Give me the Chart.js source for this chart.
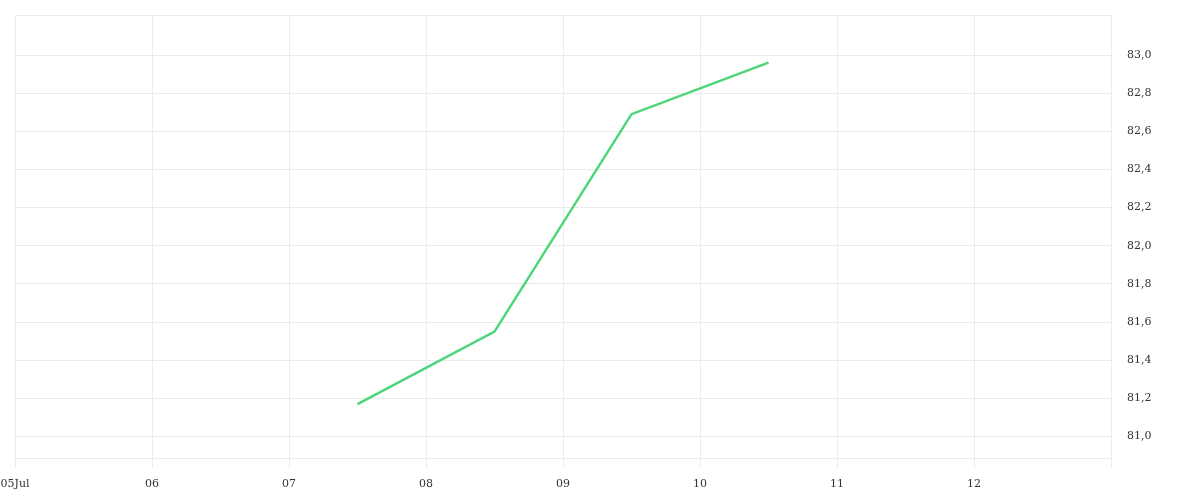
<!DOCTYPE html>
<html>
<head>
<meta charset="utf-8">
<script src="https://cdn.jsdelivr.net/npm/chart.js@4/dist/chart.umd.min.js"></script>
<style>
  html, body { margin: 0; padding: 0; background: #fff; }
  #wrap { width: 1200px; height: 500px; }
</style>
</head>
<body>
<div id="wrap"><canvas id="chart"></canvas></div>
<script>
// days of July (12:00 = .5)
var days = [7.5, 8.5, 9.5, 10.5];
var values = [81.17, 81.55, 82.69, 82.96];
var xTicks = [5, 6, 7, 8, 9, 10, 11, 12, 13];
var xLabels = ["05Jul", "06", "07", "08", "09", "10", "11", "12", ""];
var yTicks = [81.0, 81.2, 81.4, 81.6, 81.8, 82.0, 82.2, 82.4, 82.6, 82.8, 83.0];
var yMin = 80.887;
var yMax = 83.21;

var points = [];
for (var i = 0; i < days.length; i++) {
  points.push({x: days[i], y: values[i]});
}

var tickFont = {family: "DejaVu Serif", size: 11};

new Chart(document.getElementById("chart"), {
  type: 'line',
  data: {
    datasets: [{
      data: points,
      borderColor: "#4cd679",
      borderWidth: 2.5,
      pointRadius: 0,
      fill: false,
      tension: 0
    }]
  },
  options: {
    responsive: true,
    maintainAspectRatio: false,
    animation: false,
    layout: { padding: { left: 15, top: 15, right: 0, bottom: 0 } },
    plugins: { legend: { display: false }, tooltip: { enabled: false } },
    scales: {
      x: {
        type: 'linear',
        min: xTicks[0],
        max: xTicks[xTicks.length - 1],
        afterBuildTicks: function(scale) {
          scale.ticks = xTicks.map(function(v) { return {value: v}; });
        },
        afterFit: function(scale) {
          scale.height = 42;
          scale.paddingLeft = 0;
          scale.paddingRight = 0;
        },
        grid: { color: "#ebebeb", tickLength: 10 },
        border: { display: false },
        ticks: {
          autoSkip: false,
          maxRotation: 0,
          padding: 10,
          color: "#333",
          font: tickFont,
          callback: function(v, idx) { return xLabels[idx]; }
        }
      },
      y: {
        position: 'right',
        min: yMin,
        max: yMax,
        afterBuildTicks: function(scale) {
          var t = [{value: yMin}];
          yTicks.forEach(function(v) { t.push({value: v}); });
          t.push({value: yMax});
          scale.ticks = t;
        },
        afterFit: function(scale) {
          scale.width = 89;
          scale.paddingTop = 0;
          scale.paddingBottom = 0;
        },
        grid: { color: "#ebebeb", drawTicks: false },
        border: { display: false },
        ticks: {
          padding: 16,
          color: "#333",
          font: tickFont,
          callback: function(v) {
            if (yTicks.indexOf(v) < 0) return "";
            return v.toFixed(1).replace(".", ",");
          }
        }
      }
    }
  }
});
</script>
</body>
</html>
